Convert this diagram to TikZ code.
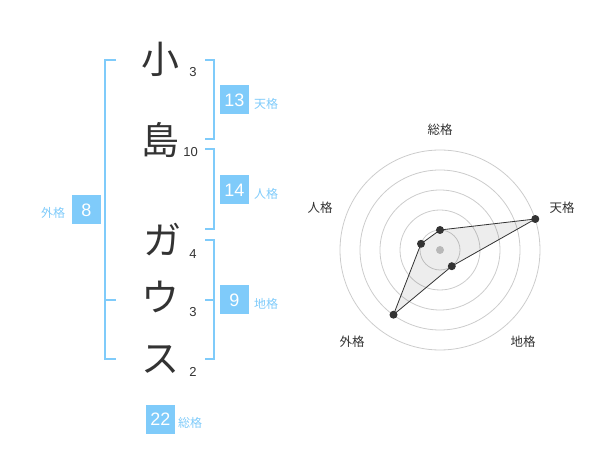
\documentclass[tikz,border=0pt]{standalone}
\usepackage{fontspec}
\setmainfont{Liberation Sans}
\newfontfamily\jp{Noto Sans CJK JP}
\definecolor{sky}{RGB}{127,203,250}
\definecolor{ink}{RGB}{51,51,51}
\begin{document}
\begin{tikzpicture}[x=1pt,y=-1pt,
 namechar/.style={font=\jp\fontsize{38}{38}\selectfont, text=ink, inner sep=0},
 strokes/.style={font=\fontsize{13}{13}\selectfont, text=ink, inner sep=0},
 valbox/.style={fill=sky, text=white, font=\fontsize{18}{18}\selectfont, minimum width=29, minimum height=29, inner sep=0},
 kaku/.style={font=\jp\fontsize{12}{12}\selectfont, text=sky, inner sep=0},
 bracket/.style={draw=sky, line width=2},
 ring/.style={draw=black!20, line width=0.8},
 axlabel/.style={font=\jp\fontsize{12.5}{12.5}\selectfont, text=ink, inner sep=0},
 dot/.style={circle, fill=ink, inner sep=0, minimum size=8}
]
\useasboundingbox (0,0) rectangle (600,470);
% name characters
\node[namechar] (c1) at (160,59) {小};
\node[namechar] (c2) at (160.5,140) {島};
\node[namechar] (c3) at (162,240) {ガ};
\node[namechar] (c4) at (160,297) {ウ};
\node[namechar] (c5) at (160,359.5) {ス};
% stroke counts
\node[strokes] (s1) at (193,72) {3};
\node[strokes] (s2) at (190.5,152.5) {10};
\node[strokes] (s3) at (193,254) {4};
\node[strokes] (s4) at (193,312.5) {3};
\node[strokes] (s5) at (193,372) {2};
% brackets
\draw[bracket] (116,60) -| (105,359) -- (116,359);
\draw[bracket] (105,300) -- (116,300);
\draw[bracket] (205,60) -| (214,139) -- (205,139);
\draw[bracket] (205,149) -| (214,229) -- (205,229);
\draw[bracket] (205,240) -| (214,359) -- (205,359);
\draw[bracket] (214,300) -- (205,300);
% value boxes and labels
\node[valbox] (gai) at (86.5,210) {8};
\node[kaku] (gail) at (53,213) {外格};
\node[valbox] (ten) at (234.5,100) {13};
\node[kaku] (tenl) at (266,104) {天格};
\node[valbox] (jin) at (234.5,190) {14};
\node[kaku] (jinl) at (266,194) {人格};
\node[valbox] (chi) at (234.5,300) {9};
\node[kaku] (chil) at (266,304) {地格};
\node[valbox] (so) at (160.5,419) {22};
\node[kaku] (sol) at (190,423) {総格};
% radar chart
\coordinate (rc) at (440,250);
\foreach \r in {20,40,60,80,100} \draw[ring] (rc) circle[radius=\r];
\node[circle, fill=black!22, inner sep=0, minimum size=8] (ctr) at (rc) {};
\coordinate (v1) at (440,230);
\coordinate (v2) at (535.3,219);
\coordinate (v3) at (451.8,266.2);
\coordinate (v4) at (393.5,314.7);
\coordinate (v5) at (421,243.8);
\filldraw[fill=black, fill opacity=0.07, draw=ink, draw opacity=1, line width=0.8] (v1) -- (v2) -- (v3) -- (v4) -- (v5) -- cycle;
\node[dot] (d1) at (v1) {};
\node[dot] (d2) at (v2) {};
\node[dot] (d3) at (v3) {};
\node[dot] (d4) at (v4) {};
\node[dot] (d5) at (v5) {};
\node[axlabel] (a1) at (440,130) {総格};
\node[axlabel] (a2) at (562,208) {天格};
\node[axlabel] (a3) at (523,342) {地格};
\node[axlabel] (a4) at (352,342) {外格};
\node[axlabel] (a5) at (320,208) {人格};
\end{tikzpicture}
\end{document}
